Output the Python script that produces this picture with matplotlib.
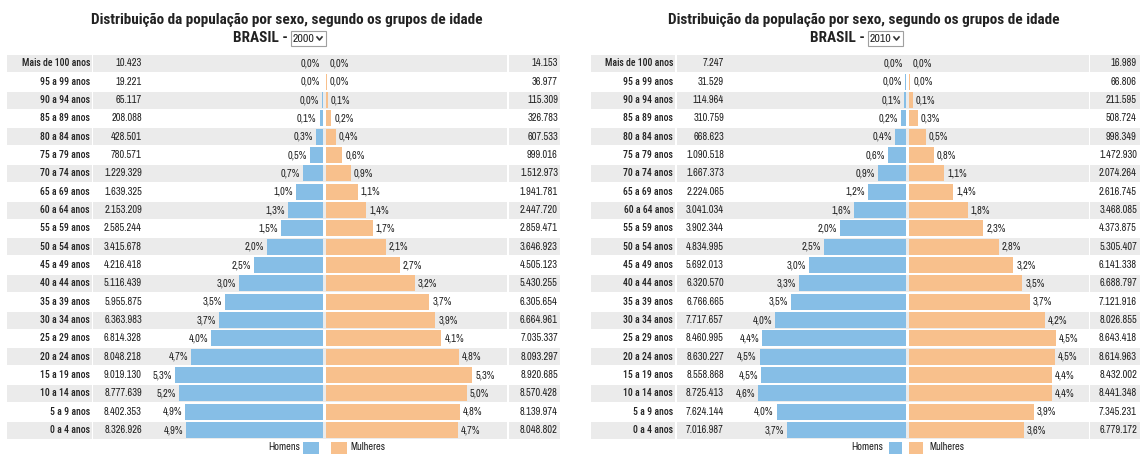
import matplotlib
matplotlib.use("Agg")
import matplotlib.pyplot as plt
from matplotlib.patches import Rectangle

plt.rcParams['font.family'] = ['Archivo Narrow', 'DejaVu Sans']
BOLD = ['Roboto Condensed', 'DejaVu Sans']

W, H = 1142, 454

faixas = ["Mais de 100 anos", "95 a 99 anos", "90 a 94 anos", "85 a 89 anos",
          "80 a 84 anos", "75 a 79 anos", "70 a 74 anos", "65 a 69 anos",
          "60 a 64 anos", "55 a 59 anos", "50 a 54 anos", "45 a 49 anos",
          "40 a 44 anos", "35 a 39 anos", "30 a 34 anos", "25 a 29 anos",
          "20 a 24 anos", "15 a 19 anos", "10 a 14 anos", "5 a 9 anos",
          "0 a 4 anos"]

homens_2000 = [10423, 19221, 65117, 208088, 428501, 780571, 1229329, 1639325,
               2153209, 2585244, 3415678, 4216418, 5116439, 5955875, 6363983,
               6814328, 8048218, 9019130, 8777639, 8402353, 8326926]
mulheres_2000 = [14153, 36977, 115309, 326783, 607533, 999016, 1512973, 1941781,
                 2447720, 2859471, 3646923, 4505123, 5430255, 6305654, 6664961,
                 7035337, 8093297, 8920685, 8570428, 8139974, 8048802]

homens_2010 = [7247, 31529, 114964, 310759, 668623, 1090518, 1667373, 2224065,
               3041034, 3902344, 4834995, 5692013, 6320570, 6766665, 7717657,
               8460995, 8630227, 8558868, 8725413, 7624144, 7016987]
mulheres_2010 = [16989, 66806, 211595, 508724, 998349, 1472930, 2074264, 2616745,
                 3468085, 4373875, 5305407, 6141338, 6688797, 7121916, 8026855,
                 8643418, 8614963, 8432002, 8441348, 7345231, 6779172]

titulo = "Distribuição da população por sexo, segundo os grupos de idade"

AZUL = "#86bee6"
LARANJA = "#f8c08c"
CINZA = "#ebebeb"
TXT = "#222222"

# layout of each panel in image pixels
paineis = [
    dict(ano="2000", h=homens_2000, m=mulheres_2000, x0=0,
         st_l=7, lab_r=90, num_r=142, c=324.5, rn_l=509, rn_r=558, st_r=560,
         tcx=287, box_l=291, leg=(-24.5, -21.5, -5.5, 6.5, 22.5, 25.5)),
    dict(ano="2010", h=homens_2010, m=mulheres_2010, x0=570,
         st_l=591, lab_r=673, num_r=724, c=907.5, rn_l=1090, rn_r=1137, st_r=1141,
         tcx=864, box_l=868, leg=(-24.5, -18.5, -5.5, 1.5, 15.5, 21.5)),
]

ROW_TOP, ROW_BOT = 54.3, 439.3

fig = plt.figure(figsize=(W / 100, H / 100), dpi=100)


def fx(px):
    return px / W


def fy(py):
    return 1 - py / H


for p in paineis:
    total = sum(p["h"]) + sum(p["m"])
    ph = [v / total * 100 for v in p["h"]]
    pm = [v / total * 100 for v in p["m"]]
    s = 148.0 / max(ph + pm)          # pixels per percent
    c = p["c"]

    def X(px):
        return (px - c) / s

    ax = fig.add_axes([fx(p["x0"]), fy(ROW_BOT), 570 / W, (ROW_BOT - ROW_TOP) / H])
    ax.set_xlim(X(p["x0"]), X(p["x0"] + 570))
    ax.set_ylim(len(faixas) - 0.5, -0.5)
    ax.axis("off")

    ys = list(range(len(faixas)))
    # zebra stripes, split in columns
    cols = [(p["st_l"], p["lab_r"] + 2), (p["lab_r"] + 3.5, p["rn_l"] - 1.5),
            (p["rn_l"], p["st_r"])]
    for i in ys[::2]:
        for a, b in cols:
            ax.barh(i, X(b) - X(a), left=X(a), height=0.94, color=CINZA, lw=0, zorder=0)

    g = 1.5 / s
    ax.barh(ys, [-v for v in ph], left=-g, height=0.87, color=AZUL, lw=0, zorder=2)
    ax.barh(ys, pm, left=g, height=0.87, color=LARANJA, lw=0, zorder=2)

    pad = 3 / s
    for i in ys:
        ax.text(-g - ph[i] - pad, i, f"{ph[i]:.1f}%".replace(".", ","),
                ha="right", va="center", fontsize=7.5, color=TXT)
        ax.text(g + pm[i] + pad, i, f"{pm[i]:.1f}%".replace(".", ","),
                ha="left", va="center", fontsize=7.5, color=TXT)
        ax.text(X(p["lab_r"]), i, faixas[i], ha="right", va="center",
                fontsize=7, fontweight="medium", family=BOLD, color=TXT)
        ax.text(X(p["num_r"]), i, f"{p['h'][i]:,}".replace(",", "."),
                ha="right", va="center", fontsize=7.5, color=TXT)
        ax.text(X(p["rn_r"]), i, f"{p['m'][i]:,}".replace(",", "."),
                ha="right", va="center", fontsize=7.5, color=TXT)

    # title and year selector
    fig.text(fx(p["tcx"]), fy(20), titulo, ha="center", va="center",
             fontsize=11, fontweight="bold", family=BOLD, color=TXT)
    fig.text(fx(p["box_l"] - 3), fy(38.5), "BRASIL -", ha="right", va="center",
             fontsize=11, fontweight="bold", family=BOLD, color=TXT)
    bl = p["box_l"]
    fig.patches.append(Rectangle((fx(bl), fy(46)), 35 / W, 15.5 / H,
                                 transform=fig.transFigure, fc="white",
                                 ec="#a0a0a0", lw=0.8))
    fig.text(fx(bl + 2), fy(38.5), p["ano"], ha="left", va="center",
             fontsize=8.5, color=TXT)
    fig.lines.append(plt.Line2D([fx(bl + 26), fx(bl + 28.5), fx(bl + 31)],
                                [fy(37), fy(40), fy(37)],
                                transform=fig.transFigure, color="#333333", lw=1.2))

    # legend
    lh, b0, b1, o0, o1, lm = p["leg"]
    fig.text(fx(c + lh), fy(447.5), "Homens", ha="right", va="center",
             fontsize=7.5, color=TXT)
    fig.patches.append(Rectangle((fx(c + b0), fy(455)), (b1 - b0) / W, 13 / H,
                                 transform=fig.transFigure, fc=AZUL, lw=0))
    fig.patches.append(Rectangle((fx(c + o0), fy(455)), (o1 - o0) / W, 13 / H,
                                 transform=fig.transFigure, fc=LARANJA, lw=0))
    fig.text(fx(c + lm), fy(447.5), "Mulheres", ha="left", va="center",
             fontsize=7.5, color=TXT)

fig.savefig("out.png", dpi=100)
